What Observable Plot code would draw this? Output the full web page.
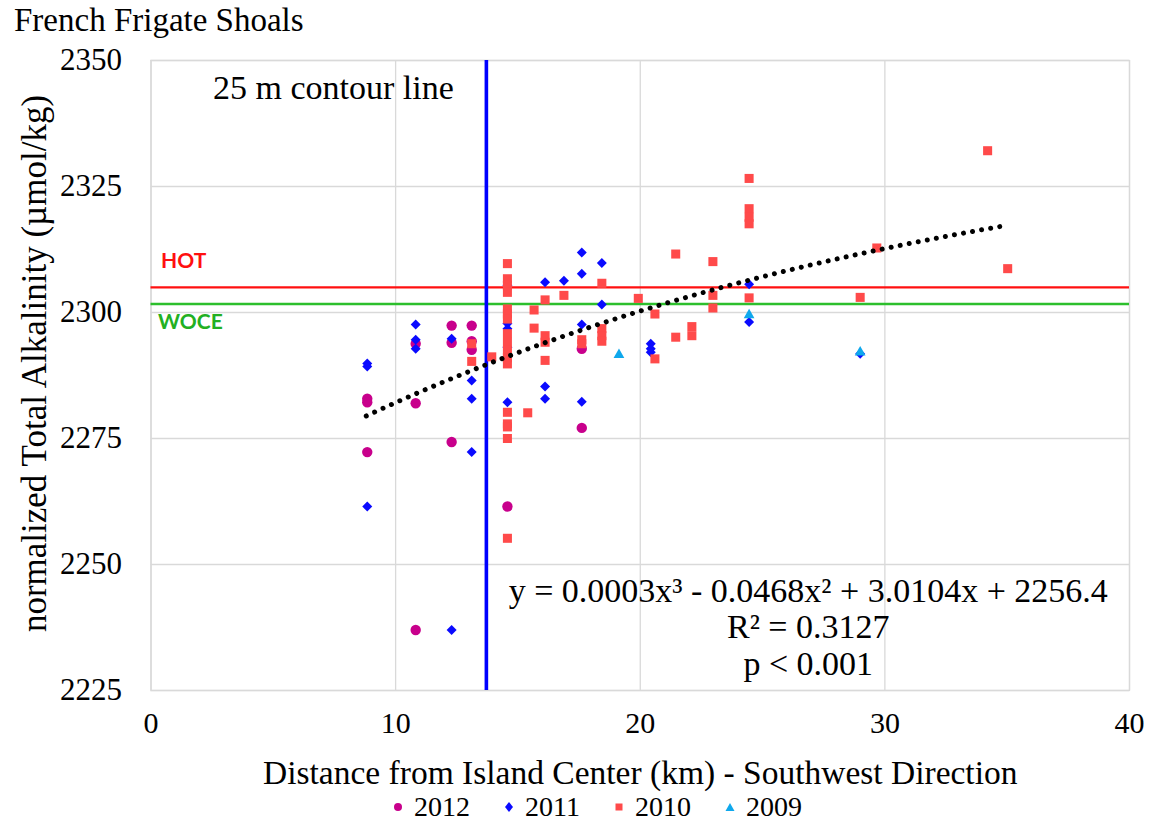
<!DOCTYPE html>
<html>
<head>
<meta charset="utf-8">
<script src="https://cdn.jsdelivr.net/npm/d3@7"></script>
<script src="https://cdn.jsdelivr.net/npm/@observablehq/plot@0.6"></script>
<style>
  body { margin: 0; background: #fff; font-family: "Liberation Serif", "Times New Roman", serif; color: #000; }
  #wrap { width: 1153px; height: 823px; position: relative; overflow: hidden; background: #fff; }
  #title { height: 42px; line-height: 40px; font-size: 33px; padding-left: 14px; white-space: nowrap; }
  #chart { height: 754px; }
  #legend { position: absolute; left: 0; top: 791px; height: 32px; display: flex; align-items: center; font-size: 28px; line-height: 32px; padding-left: 393px; white-space: nowrap; }
  .item { display: flex; align-items: center; margin-right: 34px; height: 32px; }
  .item svg { margin-right: 11px; }
</style>
</head>
<body>
<div id="wrap">
  <div id="title"></div>
  <div id="chart"></div>
  <div id="legend"></div>
</div>
<script>
// ---------- data ----------
const titleText = "French Frigate Shoals";
const xLabel = "Distance from Island Center (km) - Southwest Direction";
const yLabel = "normalized Total Alkalinity (µmol/kg)";
const xTicks = [0, 10, 20, 30, 40];
const yTicks = [2225, 2250, 2275, 2300, 2325, 2350];
const years = ["2012", "2011", "2010", "2009"];

const x2012 = [8.84, 8.84, 8.84, 10.82, 10.82, 10.82, 12.29, 12.29, 12.29, 13.11, 13.11, 13.11, 14.57, 17.61, 17.61];
const y2012 = [2282.9, 2282.2, 2272.3, 2293.8, 2282.0, 2237.0, 2297.4, 2294.0, 2274.3, 2297.4, 2294.3, 2292.6, 2261.5, 2292.8, 2277.1];

const x2011 = [8.84, 8.84, 8.84, 10.82, 10.82, 10.82, 12.29, 12.29, 13.11, 13.11, 13.11,
               14.57, 14.57, 14.57, 14.57, 14.57, 16.11, 16.11, 16.11, 16.88,
               17.61, 17.61, 17.61, 17.61, 18.43, 18.43, 20.43, 20.43, 20.43, 24.45, 24.45, 28.99];
const y2011 = [2289.9, 2289.3, 2261.5, 2297.6, 2294.6, 2292.8, 2294.8, 2237.0, 2286.5, 2282.9, 2272.3,
               2305.4, 2297.8, 2296.8, 2293.1, 2282.2, 2306.0, 2285.3, 2282.9, 2306.3,
               2311.9, 2307.7, 2297.6, 2282.3, 2309.8, 2301.6, 2293.8, 2292.8, 2292.1, 2305.6, 2298.1, 2291.8];

const x2010 = [13.11, 13.11, 13.93,
               14.57, 14.57, 14.57, 14.57, 14.57, 14.57, 14.57, 14.57, 14.57, 14.57, 14.57, 14.57, 14.57, 14.57, 14.57, 14.57, 14.57,
               15.40, 15.66, 15.66, 16.11, 16.11, 16.11, 16.11, 16.88, 17.61, 17.61,
               18.43, 18.43, 18.43, 18.43, 19.92, 20.60, 20.60, 21.45, 21.45, 22.11, 22.11,
               22.97, 22.97, 22.97, 24.45, 24.45, 24.45, 24.45, 24.45, 28.99, 29.67, 34.20, 35.02];
const y2010 = [2293.8, 2290.3, 2291.2,
               2309.7, 2306.7, 2305.4, 2304.0, 2300.7, 2299.7, 2298.7, 2295.8, 2294.1, 2292.5, 2291.0, 2289.8, 2280.2, 2277.9, 2277.3, 2275.0, 2255.2,
               2280.1, 2300.5, 2296.9, 2302.5, 2295.4, 2294.1, 2290.5, 2303.4, 2294.6, 2293.8,
               2305.8, 2296.8, 2295.4, 2294.3, 2302.8, 2299.7, 2290.8, 2311.6, 2295.1, 2297.2, 2295.4,
               2310.1, 2303.4, 2300.9, 2326.6, 2320.6, 2318.9, 2317.6, 2302.9, 2303.0, 2312.8, 2332.1, 2308.7];

const x2009 = [19.13, 24.45, 28.99];
const y2009 = [2291.6, 2299.5, 2292.1];

// reference lines and fitted trend (coefficients as printed on the chart)
const hotLevel = 2305.0;
const woceLevel = 2301.7;
const contourX = 13.71;
const trendCoef = [0.0003, -0.0468, 3.0104, 2256.4];
const trendRange = [8.8, 35.0];
const equationText = "y = 0.0003x³ - 0.0468x² + 3.0104x + 2256.4\nR² = 0.3127\np < 0.001";

// ---------- build ----------
const toRows = (xs, ys) => xs.map((x, i) => ({x, y: ys[i]}));
const rows2012 = toRows(x2012, y2012);
const rows2011 = toRows(x2011, y2011);
const rows2010 = toRows(x2010, y2010);
const rows2009 = toRows(x2009, y2009);

const style = {
  "2012": {symbol: "circle", r: 5.2, fill: "#c8008c"},
  "2011": {symbol: "diamond2", r: 4.5, fill: "#0a0aff"},
  "2010": {symbol: "square", r: 5.1, fill: "#ff4a4a"},
  "2009": {symbol: "triangle", r: 4.0, fill: "#0fa8ec"}
};

const trendRows = d3.range(trendRange[0], trendRange[1] + 1e-9, 0.1).map(x => ({
  x, y: trendCoef[0] * x ** 3 + trendCoef[1] * x ** 2 + trendCoef[2] * x + trendCoef[3]
}));

document.getElementById("title").textContent = titleText;

const grid = "#d9d9d9";
const chart = Plot.plot({
  width: 1153,
  height: 754,
  marginLeft: 150.5,
  marginRight: 24,
  marginTop: 18,
  marginBottom: 106,
  style: {fontFamily: "'Liberation Serif', 'Times New Roman', serif", fontSize: "30px", color: "#000", background: "#fff"},
  x: {domain: [0, 40]},
  y: {domain: [2225, 2350]},
  marks: [
    Plot.gridX(xTicks, {stroke: grid, strokeOpacity: 1, strokeWidth: 1.3}),
    Plot.gridY(yTicks, {stroke: grid, strokeOpacity: 1, strokeWidth: 1.3}),
    Plot.frame({stroke: grid, strokeWidth: 1.3}),
    Plot.axisX(xTicks, {tickSize: 0, tickPadding: 21, fontSize: 30, label: null, tickFormat: d => String(d)}),
    Plot.axisY(yTicks, {tickSize: 0, tickPadding: 29, fontSize: 31, label: null, tickFormat: d => String(d)}),
    Plot.text([xLabel], {frameAnchor: "bottom", dy: 83, fontSize: 33.5, lineAnchor: "middle"}),
    Plot.text([yLabel], {frameAnchor: "left", dx: -116, dy: -12, rotate: -90, fontSize: 35, lineAnchor: "middle", textAnchor: "middle"}),
    Plot.ruleY([hotLevel], {stroke: "#ff1010", strokeWidth: 2.2}),
    Plot.ruleY([woceLevel], {stroke: "#2cbf2c", strokeWidth: 2.6}),
    Plot.ruleX([contourX], {stroke: "#0000ff", strokeWidth: 3.6}),
    Plot.text(["HOT"], {y: () => hotLevel, frameAnchor: "left", dx: 10, dy: -26, textAnchor: "start",
      fill: "#ff1010", fontWeight: "bold", fontSize: 21, fontFamily: "Lato, 'Open Sans', sans-serif"}),
    Plot.text(["WOCE"], {y: () => woceLevel, frameAnchor: "left", dx: 7, dy: 18, textAnchor: "start",
      fill: "#22b022", fontWeight: "bold", fontSize: 21, fontFamily: "Lato, 'Open Sans', sans-serif"}),
    Plot.text(["25 m contour line"], {frameAnchor: "top-left", dx: 62, dy: 28, textAnchor: "start", lineAnchor: "middle", fontSize: 34}),
    Plot.dot(rows2012, {x: "x", y: "y", ...style["2012"]}),
    Plot.dot(rows2011, {x: "x", y: "y", ...style["2011"]}),
    Plot.dot(rows2010, {x: "x", y: "y", ...style["2010"]}),
    Plot.dot(rows2009, {x: "x", y: "y", ...style["2009"]}),
    Plot.line(trendRows, {x: "x", y: "y", stroke: "#000", strokeWidth: 5, strokeDasharray: "0.01 9.2", strokeLinecap: "round"}),
    Plot.text([equationText], {frameAnchor: "bottom", dx: 168, dy: -16, textAnchor: "middle", lineAnchor: "bottom", lineHeight: 1.06, fontSize: 34})
  ]
});
document.getElementById("chart").appendChild(chart);

// legend
const legend = document.getElementById("legend");
const markerSvg = {
  "2012": '<svg width="10" height="10"><circle cx="5" cy="5" r="4" fill="#c8008c"/></svg>',
  "2011": '<svg width="10" height="12"><path d="M5 1 L9 6 L5 11 L1 6Z" fill="#0a0aff"/></svg>',
  "2010": '<svg width="10" height="10"><rect x="1.5" y="1.5" width="7" height="7" fill="#ff4a4a"/></svg>',
  "2009": '<svg width="10" height="10"><path d="M5 1 L9.5 9 L0.5 9Z" fill="#0fa8ec"/></svg>'
};
years.forEach(yr => {
  const it = document.createElement("div");
  it.className = "item";
  it.innerHTML = markerSvg[yr] + "<span>" + yr + "</span>";
  legend.appendChild(it);
});
</script>
</body>
</html>
